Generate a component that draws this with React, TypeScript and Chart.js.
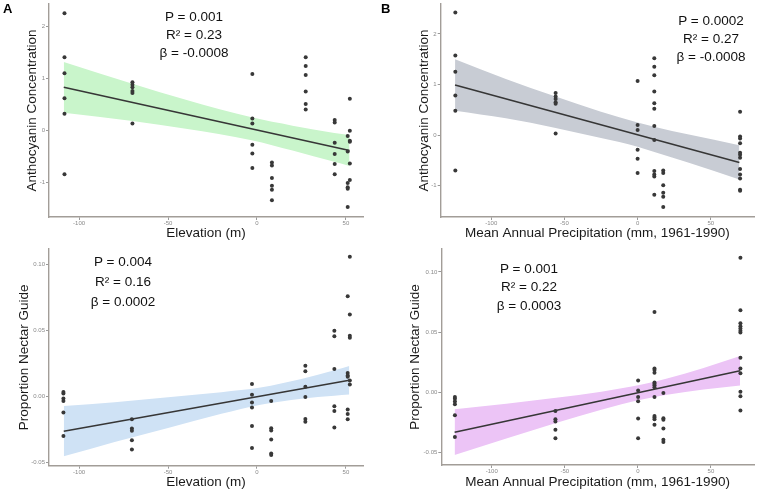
import React, { useEffect, useRef } from "react";
import { Chart, registerables } from "chart.js";

Chart.register(...registerables);

const FONT = "'Liberation Sans', Arial, Helvetica, sans-serif";

// ---------- tick values ----------
const xTicks = [-100, -50, 0, 50];
const anthoTicks = [-1, 0, 1, 2];
const nectarTicks = [-0.05, 0, 0.05, 0.1];

// ---------- Panel A: Elevation vs Anthocyanin ----------
const elevA = [
  -108.2, -108.2, -108.2, -108.2, -108.2, -108.2,
  -70, -70, -70, -70, -70, -70,
  -2.6, -2.6, -2.6, -2.6, -2.6, -2.6,
  8.4, 8.4, 8.4, 8.4, 8.4, 8.4,
  27.4, 27.4, 27.4, 27.4, 27.4, 27.4,
  43.7, 43.7, 43.7, 43.7, 43.7, 43.7,
  52.2, 52.2, 52.2, 52.2, 52.2, 52.2,
  51.0, 51.0, 51.0, 51.0, 51.0, 51.0,
];
const anthoA = [
  2.26, 1.41, 1.1, 0.62, 0.32, -0.85,
  0.93, 0.88, 0.83, 0.76, 0.72, 0.13,
  1.09, 0.23, 0.13, -0.28, -0.45, -0.73,
  -0.62, -0.68, -0.92, -1.07, -1.15, -1.35,
  1.41, 1.24, 1.07, 0.75, 0.51, 0.4,
  0.2, 0.15, -0.24, -0.46, -0.65, -0.85,
  0.61, -0.01, -0.2, -0.22, -0.64, -0.96,
  -0.11, -0.41, -1.02, -1.1, -1.13, -1.48,
];
const fitAX = [-108.6, 52];
const fitAY = [0.83, -0.39];
const bandAX = [-108.6, -70, -40, -3, 20, 43.5, 52];
const bandAHi = [1.32, 0.9, 0.59, 0.25, 0.09, -0.05, -0.09];
const bandALo = [0.34, 0.18, 0.03, -0.19, -0.39, -0.61, -0.69];

// ---------- Panel B: Precipitation vs Anthocyanin ----------
const precB = [
  -124.5, -124.5, -124.5, -124.5, -124.5, -124.5,
  -56, -56, -56, -56, -56, -56,
  0, 0, 0, 0, 0, 0,
  11.4, 11.4, 11.4, 11.4, 11.4, 11.4, 11.4, 11.4, 11.4, 11.4, 11.4, 11.4,
  17.5, 17.5, 17.5, 17.5, 17.5, 17.5,
  70, 70, 70, 70, 70, 70, 70, 70, 70, 70, 70, 70,
];
const anthoB = [
  2.42, 1.57, 1.25, 0.78, 0.48, -0.7,
  0.83, 0.76, 0.71, 0.65, 0.62, 0.03,
  1.07, 0.2, 0.1, -0.29, -0.47, -0.75,
  1.52, 1.35, 1.18, 0.86, 0.63, 0.52, 0.18, -0.1, -0.71, -0.78, -0.82, -1.18,
  -0.7, -0.75, -0.99, -1.14, -1.22, -1.42,
  0.46, -0.03, -0.07, -0.16, -0.35, -0.39, -0.45, -0.67, -0.78, -0.86, -1.08, -1.1,
];
const fitBX = [-124.7, 69.5];
const fitBY = [0.99, -0.543];
const bandBX = [-124.7, -90, -56, -25, 0, 12, 35, 69.5];
const bandBHi = [1.5, 1.11, 0.76, 0.46, 0.25, 0.16, 0.01, -0.2];
const bandBLo = [0.48, 0.33, 0.14, -0.06, -0.23, -0.34, -0.55, -0.88];

// ---------- Panel C: Elevation vs Nectar guide ----------
const elevC = [
  -108.8, -108.8, -108.8, -108.8, -108.8, -108.8,
  -70.3, -70.3, -70.3, -70.3, -70.3,
  -2.8, -2.8, -2.8, -2.8, -2.8, -2.8,
  8.0, 8.0, 8.0, 8.0, 8.0, 8.0,
  27.2, 27.2, 27.2, 27.2, 27.2, 27.2,
  43.5, 43.5, 43.5, 43.5, 43.5, 43.5,
  52.2, 52.2, 52.2, 52.2, 52.2, 52.2,
  51.0, 51.0, 51.0, 51.0, 51.0, 51.0, 51.0,
];
const nectarC = [
  0.0032, 0.0022, -0.0017, -0.0035, -0.0122, -0.0301,
  -0.0174, -0.0244, -0.0261, -0.0333, -0.0403,
  0.0092, 0.0012, -0.0047, -0.0085, -0.0224, -0.0391,
  -0.0035, -0.0241, -0.0259, -0.0326, -0.0433, -0.0445,
  0.0231, 0.0189, 0.0072, -0.0005, -0.0172, -0.0192,
  0.0495, 0.0455, 0.0206, -0.0075, -0.0112, -0.0236,
  0.1055, 0.0619, 0.0458, 0.0443, 0.0119, 0.009,
  0.0756, 0.0177, 0.0157, 0.0147, -0.01, -0.0134, -0.0174,
];
const fitCX = [-108.6, 51.9];
const fitCY = [-0.0264, 0.0121];
const bandCX = [-108.6, -80, -50, -20, 2, 25, 43.5, 51.9];
const bandCHi = [-0.0074, -0.0045, -0.0007, 0.0031, 0.0066, 0.013, 0.0196, 0.0229];
const bandCLo = [-0.0454, -0.0345, -0.0239, -0.0133, -0.0064, -0.0018, 0.0004, 0.0013];

// ---------- Panel D: Precipitation vs Nectar guide ----------
const precD = [
  -125.2, -125.2, -125.2, -125.2, -125.2, -125.2,
  -56.4, -56.4, -56.4, -56.4, -56.4,
  0.2, 0.2, 0.2, 0.2, 0.2, 0.2,
  11.4, 11.4, 11.4, 11.4, 11.4, 11.4, 11.4, 11.4, 11.4, 11.4, 11.4, 11.4, 11.4,
  17.5, 17.5, 17.5, 17.5, 17.5, 17.5,
  70.2, 70.2, 70.2, 70.2, 70.2, 70.2, 70.2, 70.2, 70.2, 70.2, 70.2, 70.2, 70.2,
];
const nectarD = [
  -0.0038, -0.0054, -0.0076, -0.0098, -0.019, -0.037,
  -0.0155, -0.0223, -0.0242, -0.031, -0.038,
  0.0098, 0.0016, -0.0038, -0.0073, -0.0217, -0.038,
  0.0668, 0.0198, 0.0185, 0.0163, 0.0082, 0.0071, 0.006, 0.0043, -0.0038, -0.0196, -0.0209, -0.0223, -0.0269,
  -0.0005, -0.0215, -0.0228, -0.0299, -0.0394, -0.0413,
  0.1117, 0.0682, 0.0573, 0.0549, 0.053, 0.0511, 0.0497, 0.0288, 0.0198, 0.0158, 0.0005, -0.0033, -0.015,
];
const fitDX = [-125.4, 70];
const fitDY = [-0.0331, 0.0179];
const bandDX = [-125.4, -90, -56, -25, 2.7, 20, 45, 70];
const bandDHi = [-0.0141, -0.0094, -0.0045, 0.0006, 0.0065, 0.0116, 0.0203, 0.0301];
const bandDLo = [-0.0521, -0.0384, -0.0255, -0.0144, -0.0059, -0.002, 0.0023, 0.0057];

type Spec = {
  left: number; top: number; w: number; h: number;
  padTop: number; padRight: number;
  yAxisW: number; xAxisH: number;
  yTitlePad: number; xTitlePad: number;
  xMin: number; xMax: number; yMin: number; yMax: number;
  yTicks: number[]; yDecimals: number;
  xTitle: string; yTitle: string;
  px: number[]; py: number[];
  fx: number[]; fy: number[];
  bx: number[]; bhi: number[]; blo: number[];
  bandColor: string;
};

const tickFont = { family: FONT, size: 6 };
const titleFont = { family: FONT, size: 13.5 };

function Panel({ s }: { s: Spec }) {
  const ref = useRef<HTMLCanvasElement>(null);
  useEffect(() => {
    if (!ref.current) return;
    const zip = (xs: number[], ys: number[]) => xs.map((x, i) => ({ x, y: ys[i] }));
    const axisCommon = {
      type: "linear" as const,
      grid: { display: true, drawOnChartArea: false, drawTicks: true, tickLength: 3, color: "#9a9a9a", tickWidth: 1 },
      border: { display: true, color: "#a29d98", width: 1.4 },
    };
    const chart = new Chart(ref.current, {
      type: "scatter",
      data: {
        datasets: [
          { data: zip(s.px, s.py), pointRadius: 2, pointBackgroundColor: "#383838", pointBorderWidth: 0, showLine: false },
          { data: zip(s.fx, s.fy), showLine: true, pointRadius: 0, borderColor: "#363636", borderWidth: 1.6, fill: false },
          { data: zip(s.bx, s.blo), showLine: true, pointRadius: 0, borderWidth: 0, borderColor: "rgba(0,0,0,0)", fill: false, cubicInterpolationMode: "monotone" },
          { data: zip(s.bx, s.bhi), showLine: true, pointRadius: 0, borderWidth: 0, borderColor: "rgba(0,0,0,0)", backgroundColor: s.bandColor, fill: "-1", cubicInterpolationMode: "monotone" },
        ],
      },
      options: {
        animation: false,
        responsive: false,
        events: [],
        layout: { padding: { top: s.padTop, right: s.padRight, left: 0, bottom: 0 } },
        plugins: { legend: { display: false }, tooltip: { enabled: false } },
        scales: {
          x: {
            ...axisCommon,
            min: s.xMin, max: s.xMax,
            afterBuildTicks: (a: any) => { a.ticks = xTicks.map((v) => ({ value: v })); },
            afterFit: (a: any) => { a.height = s.xAxisH; a.paddingLeft = 0; a.paddingRight = 0; a.paddingTop = 0; a.paddingBottom = 0; },
            ticks: { font: tickFont, color: "#8a8a8a", padding: 0, maxRotation: 0, autoSkip: false, callback: (v: any) => String(v) },
            title: { display: true, text: s.xTitle, font: titleFont, color: "#1a1a1a", padding: { top: 0, bottom: s.xTitlePad } },
          },
          y: {
            ...axisCommon,
            min: s.yMin, max: s.yMax,
            afterBuildTicks: (a: any) => { a.ticks = s.yTicks.map((v) => ({ value: v })); },
            afterFit: (a: any) => { a.width = s.yAxisW; a.paddingLeft = 0; a.paddingRight = 0; a.paddingTop = 0; a.paddingBottom = 0; },
            ticks: { font: tickFont, color: "#8a8a8a", padding: 1, autoSkip: false, callback: (v: any) => Number(v).toFixed(s.yDecimals) },
            title: { display: true, text: s.yTitle, font: titleFont, color: "#1a1a1a", padding: { top: s.yTitlePad, bottom: 0 } },
          },
        },
      } as any,
    });
    return () => chart.destroy();
  }, []);
  return (
    <canvas
      ref={ref}
      width={s.w}
      height={s.h}
      style={{ position: "absolute", left: s.left, top: s.top, width: s.w, height: s.h }}
    />
  );
}

const specA: Spec = {
  left: 0, top: 0, w: 378, h: 245, padTop: 2, padRight: 15, yAxisW: 49, xAxisH: 28,
  yTitlePad: 23.9, xTitlePad: 3.9,
  xMin: -116.9, xMax: 59.6, yMin: -1.675, yMax: 2.44, yTicks: anthoTicks, yDecimals: 0,
  xTitle: "Elevation (m)", yTitle: "Anthocyanin Concentration",
  px: elevA, py: anthoA, fx: fitAX, fy: fitAY, bx: bandAX, bhi: bandAHi, blo: bandALo,
  bandColor: "rgb(201, 245, 203)",
};
const specB: Spec = {
  left: 378, top: 0, w: 380, h: 245, padTop: 2, padRight: 3.3, yAxisW: 62.7, xAxisH: 28,
  yTitlePad: 37.9, xTitlePad: 3.9,
  xMin: -134.5, xMax: 79.5, yMin: -1.62, yMax: 2.59, yTicks: anthoTicks, yDecimals: 0,
  xTitle: "Mean Annual Precipitation (mm, 1961-1990)", yTitle: "Anthocyanin Concentration",
  px: precB, py: anthoB, fx: fitBX, fy: fitBY, bx: bandBX, bhi: bandBHi, blo: bandBLo,
  bandColor: "rgb(200, 204, 212)",
};
const specC: Spec = {
  left: 0, top: 245, w: 378, h: 247, padTop: 1, padRight: 15, yAxisW: 49, xAxisH: 26.3,
  yTitlePad: 15.9, xTitlePad: 1.6,
  xMin: -116.9, xMax: 59.6, yMin: -0.0525, yMax: 0.1114, yTicks: nectarTicks, yDecimals: 2,
  xTitle: "Elevation (m)", yTitle: "Proportion Nectar Guide",
  px: elevC, py: nectarC, fx: fitCX, fy: fitCY, bx: bandCX, bhi: bandCHi, blo: bandCLo,
  bandColor: "rgb(207, 226, 245)",
};
const specD: Spec = {
  left: 378, top: 245, w: 380, h: 247, padTop: 0, padRight: 2, yAxisW: 63.3, xAxisH: 27,
  yTitlePad: 28.9, xTitlePad: 1.6,
  xMin: -134.5, xMax: 79.5, yMin: -0.0603, yMax: 0.119, yTicks: nectarTicks, yDecimals: 2,
  xTitle: "Mean Annual Precipitation (mm, 1961-1990)", yTitle: "Proportion Nectar Guide",
  px: precD, py: nectarD, fx: fitDX, fy: fitDY, bx: bandDX, bhi: bandDHi, blo: bandDLo,
  bandColor: "rgb(236, 196, 246)",
};

const statsA = ["P = 0.001", "R² = 0.23", "β = -0.0008"];
const statsB = ["P = 0.0002", "R² = 0.27", "β = -0.0008"];
const statsC = ["P = 0.004", "R² = 0.16", "β = 0.0002"];
const statsD = ["P = 0.001", "R² = 0.22", "β = 0.0003"];

function Stats({ lines, cx, cy, lh }: { lines: string[]; cx: number; cy: number; lh: number }) {
  return (
    <div
      style={{
        position: "absolute", left: cx - 100, top: cy - lh / 2, width: 200, textAlign: "center",
        fontFamily: FONT, fontSize: 13.5, lineHeight: `${lh}px`, color: "#111",
      }}
    >
      {lines.map((l, i) => (
        <div key={i}>{l}</div>
      ))}
    </div>
  );
}

export default function App() {
  return (
    <div style={{ position: "absolute", left: 0, top: 0, width: 758, height: 492, background: "#fff", overflow: "hidden" }}>
      <Panel s={specA} />
      <Panel s={specB} />
      <Panel s={specC} />
      <Panel s={specD} />
      <Stats lines={statsA} cx={194} cy={17.3} lh={18} />
      <Stats lines={statsB} cx={711} cy={20.7} lh={18} />
      <Stats lines={statsC} cx={123} cy={262.3} lh={20} />
      <Stats lines={statsD} cx={529} cy={269} lh={18.5} />
      <div style={{ position: "absolute", left: 3, top: 1, fontFamily: FONT, fontWeight: "bold", fontSize: 13, color: "#000" }}>A</div>
      <div style={{ position: "absolute", left: 381, top: 1, fontFamily: FONT, fontWeight: "bold", fontSize: 13, color: "#000" }}>B</div>
    </div>
  );
}
